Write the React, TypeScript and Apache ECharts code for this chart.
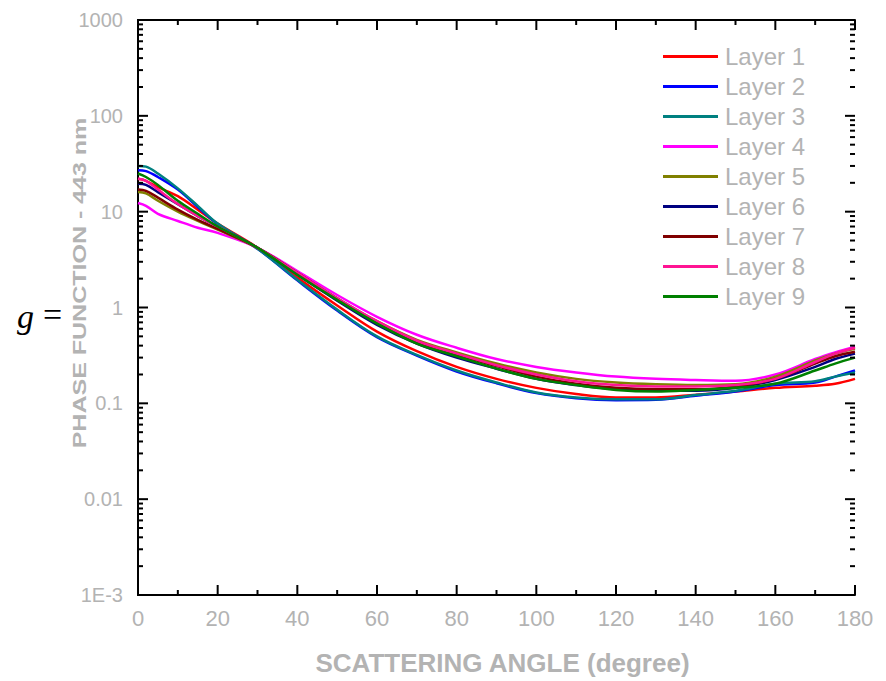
import React, { useEffect, useRef } from "react";
import * as echarts from "echarts";

const angles = [0, 2, 5, 10, 15, 20, 30, 40, 50, 60, 70, 80, 90, 100, 110, 120, 130, 140, 150, 160, 170, 175, 180];

const layer1 = [22, 21, 18, 14.5, 10.5, 7.5, 4.2, 2.05, 1.05, 0.56, 0.35, 0.24, 0.18, 0.145, 0.125, 0.115, 0.115, 0.123, 0.133, 0.145, 0.153, 0.16, 0.18];
const layer2 = [27, 26.5, 23, 17, 11.2, 7.4, 4.1, 1.92, 0.93, 0.49, 0.315, 0.215, 0.162, 0.128, 0.113, 0.108, 0.109, 0.12, 0.133, 0.155, 0.165, 0.19, 0.22];
const layer3 = [30, 29.5, 25, 17.5, 11.5, 7.5, 4.1, 1.95, 0.95, 0.5, 0.32, 0.22, 0.165, 0.13, 0.115, 0.11, 0.11, 0.122, 0.135, 0.16, 0.17, 0.19, 0.21];
const layer4 = [12.3, 11.5, 9.5, 8, 6.8, 6, 4.2, 2.4, 1.35, 0.8, 0.52, 0.38, 0.29, 0.24, 0.21, 0.19, 0.18, 0.175, 0.172, 0.2, 0.29, 0.34, 0.39];
const layer5 = [16, 15.5, 13, 10, 8, 6.5, 4.2, 2.3, 1.25, 0.72, 0.46, 0.34, 0.26, 0.21, 0.18, 0.165, 0.158, 0.155, 0.158, 0.19, 0.28, 0.33, 0.37];
const layer6 = [19.5, 19, 16, 12, 9, 7, 4.2, 2.2, 1.18, 0.66, 0.42, 0.3, 0.23, 0.18, 0.155, 0.14, 0.135, 0.135, 0.145, 0.175, 0.24, 0.29, 0.33];
const layer7 = [17, 16.5, 14, 10.5, 8.2, 6.6, 4.2, 2.3, 1.24, 0.7, 0.44, 0.32, 0.245, 0.19, 0.16, 0.145, 0.14, 0.14, 0.15, 0.18, 0.26, 0.31, 0.345];
const layer8 = [22, 21, 17, 12, 9, 7, 4.2, 2.3, 1.25, 0.72, 0.45, 0.33, 0.25, 0.2, 0.17, 0.155, 0.15, 0.15, 0.155, 0.18, 0.27, 0.33, 0.38];
const layer9 = [25, 23, 19, 13, 9.5, 7, 4.2, 2.2, 1.2, 0.68, 0.42, 0.31, 0.23, 0.18, 0.155, 0.138, 0.133, 0.138, 0.145, 0.16, 0.22, 0.26, 0.3];

const layerNames = ["Layer 1", "Layer 2", "Layer 3", "Layer 4", "Layer 5", "Layer 6", "Layer 7", "Layer 8", "Layer 9"];
const layerValues = [layer1, layer2, layer3, layer4, layer5, layer6, layer7, layer8, layer9];
const layerColors = ["#ff0000", "#0000ff", "#008080", "#ff00ff", "#808000", "#000080", "#800000", "#ff1493", "#008000"];

const yTickLabels = ["1E-3", "0.01", "0.1", "1", "10", "100", "1000"];
const xTickValues = [0, 10, 20, 30, 40, 50, 60, 70, 80, 90, 100, 110, 120, 130, 140, 150, 160, 170, 180];
const xTitle = "SCATTERING ANGLE (degree)";
const yTitle = "PHASE FUNCTION - 443 nm";

const GRAY = "#b3b3b3";
const FONT = "'Liberation Sans', Arial, sans-serif";

export default function App() {
  const ref = useRef<HTMLDivElement>(null);
  useEffect(() => {
    if (!ref.current) return;
    const chart = echarts.init(ref.current, null, { renderer: "svg" });

    const series: any[] = layerNames.map((name, i) => ({
      name,
      type: "line",
      data: angles.map((a, j) => [a, layerValues[i][j]]),
      smooth: 0.35,
      showSymbol: false,
      symbol: "none",
      lineStyle: { width: 2.5, color: layerColors[i] },
      itemStyle: { color: layerColors[i] },
      z: 3,
    }));

    const yFmt = (v: number) => {
      const k = Math.round(Math.log10(v)) + 3;
      return yTickLabels[k] ?? "";
    };

    const axisLine = { show: true, lineStyle: { color: "#000", width: 2 } };

    chart.setOption({
      animation: false,
      grid: { left: 138, right: 31, top: 20, bottom: 85 },
      legend: {
        data: layerNames,
        orient: "vertical",
        left: 658,
        top: 39.5,
        icon: "rect",
        itemWidth: 55,
        itemHeight: 3,
        itemGap: 6,
        textStyle: { color: GRAY, fontSize: 24, fontFamily: FONT, lineHeight: 24, padding: [0, 0, 0, 2] },
      },
      xAxis: [
        {
          type: "value",
          min: 0,
          max: 180,
          interval: 20,
          position: "bottom",
          name: xTitle,
          nameLocation: "middle",
          nameGap: 55,
          nameTextStyle: { color: GRAY, fontSize: 26, fontWeight: "bold", fontFamily: FONT, padding: [0, 0, 0, 12] },
          axisLine,
          axisTick: { show: false },
          axisLabel: { color: GRAY, fontSize: 22, fontFamily: FONT, margin: 12 },
          splitLine: { show: false },
        },
        {
          type: "value",
          min: 0,
          max: 180,
          interval: 20,
          position: "top",
          axisLine,
          axisTick: { show: false },
          axisLabel: { show: false },
          splitLine: { show: false },
        },
      ],
      yAxis: [
        {
          type: "log",
          logBase: 10,
          min: 0.001,
          max: 1000,
          splitNumber: 6,
          position: "left",
          axisLine,
          axisTick: { show: false },
          axisLabel: { color: GRAY, fontSize: 20, fontFamily: FONT, margin: 15, formatter: yFmt },
          splitLine: { show: false },
        },
        {
          type: "log",
          logBase: 10,
          min: 0.001,
          max: 1000,
          splitNumber: 6,
          position: "right",
          axisLine,
          axisTick: { show: false },
          axisLabel: { show: false },
          splitLine: { show: false },
        },
      ],
      series,
    });

    // Tick marks placed through the library's own axis scales
    const finder = { xAxisIndex: 0, yAxisIndex: 0 };
    const pMin = chart.convertToPixel(finder, [0, 0.001]) as number[];
    const pMax = chart.convertToPixel(finder, [180, 1000]) as number[];
    const left = pMin[0], bottom = pMin[1], right = pMax[0], top = pMax[1];
    const tickStyle = { stroke: "#000000", lineWidth: 2 };
    const ticks: any[] = [];
    for (let e = -3; e <= 3; e++) {
      const vals = [Math.pow(10, e)];
      if (e < 3) for (let m = 2; m <= 9; m++) vals.push(m * Math.pow(10, e));
      vals.forEach((v, idx) => {
        const len = idx === 0 ? 10 : 5;
        const y = chart.convertToPixel(finder, [0, v])[1];
        ticks.push({ type: "line", z: 100, silent: true, shape: { x1: left, y1: y, x2: left + len, y2: y }, style: tickStyle });
        ticks.push({ type: "line", z: 100, silent: true, shape: { x1: right - len, y1: y, x2: right, y2: y }, style: tickStyle });
      });
    }
    xTickValues.forEach((v) => {
      const len = v % 20 === 0 ? 10 : 5;
      const x = chart.convertToPixel(finder, [v, 1])[0];
      ticks.push({ type: "line", z: 100, silent: true, shape: { x1: x, y1: bottom, x2: x, y2: bottom - len }, style: tickStyle });
      ticks.push({ type: "line", z: 100, silent: true, shape: { x1: x, y1: top, x2: x, y2: top + len }, style: tickStyle });
    });

    chart.setOption({
      graphic: [
        {
          type: "text",
          x: 80,
          y: 283,
          rotation: Math.PI / 2,
          scaleX: 1.39,
          style: { text: yTitle, fill: GRAY, font: "bold 18px " + FONT, align: "center", verticalAlign: "middle" },
        },
        {
          type: "text",
          x: 17,
          y: 316,
          style: { text: "g", fill: "#000", font: "italic 34px 'Liberation Serif', 'Times New Roman', serif", align: "left", verticalAlign: "middle" },
        },
        {
          type: "text",
          x: 43,
          y: 314,
          style: { text: "=", fill: "#000", font: "34px 'Liberation Serif', 'Times New Roman', serif", align: "left", verticalAlign: "middle" },
        },
        ...ticks,
      ],
    });
    return () => chart.dispose();
  }, []);
  return <div ref={ref} style={{ position: "fixed", left: 0, top: 0, width: 886, height: 681, background: "#fff" }} />;
}
